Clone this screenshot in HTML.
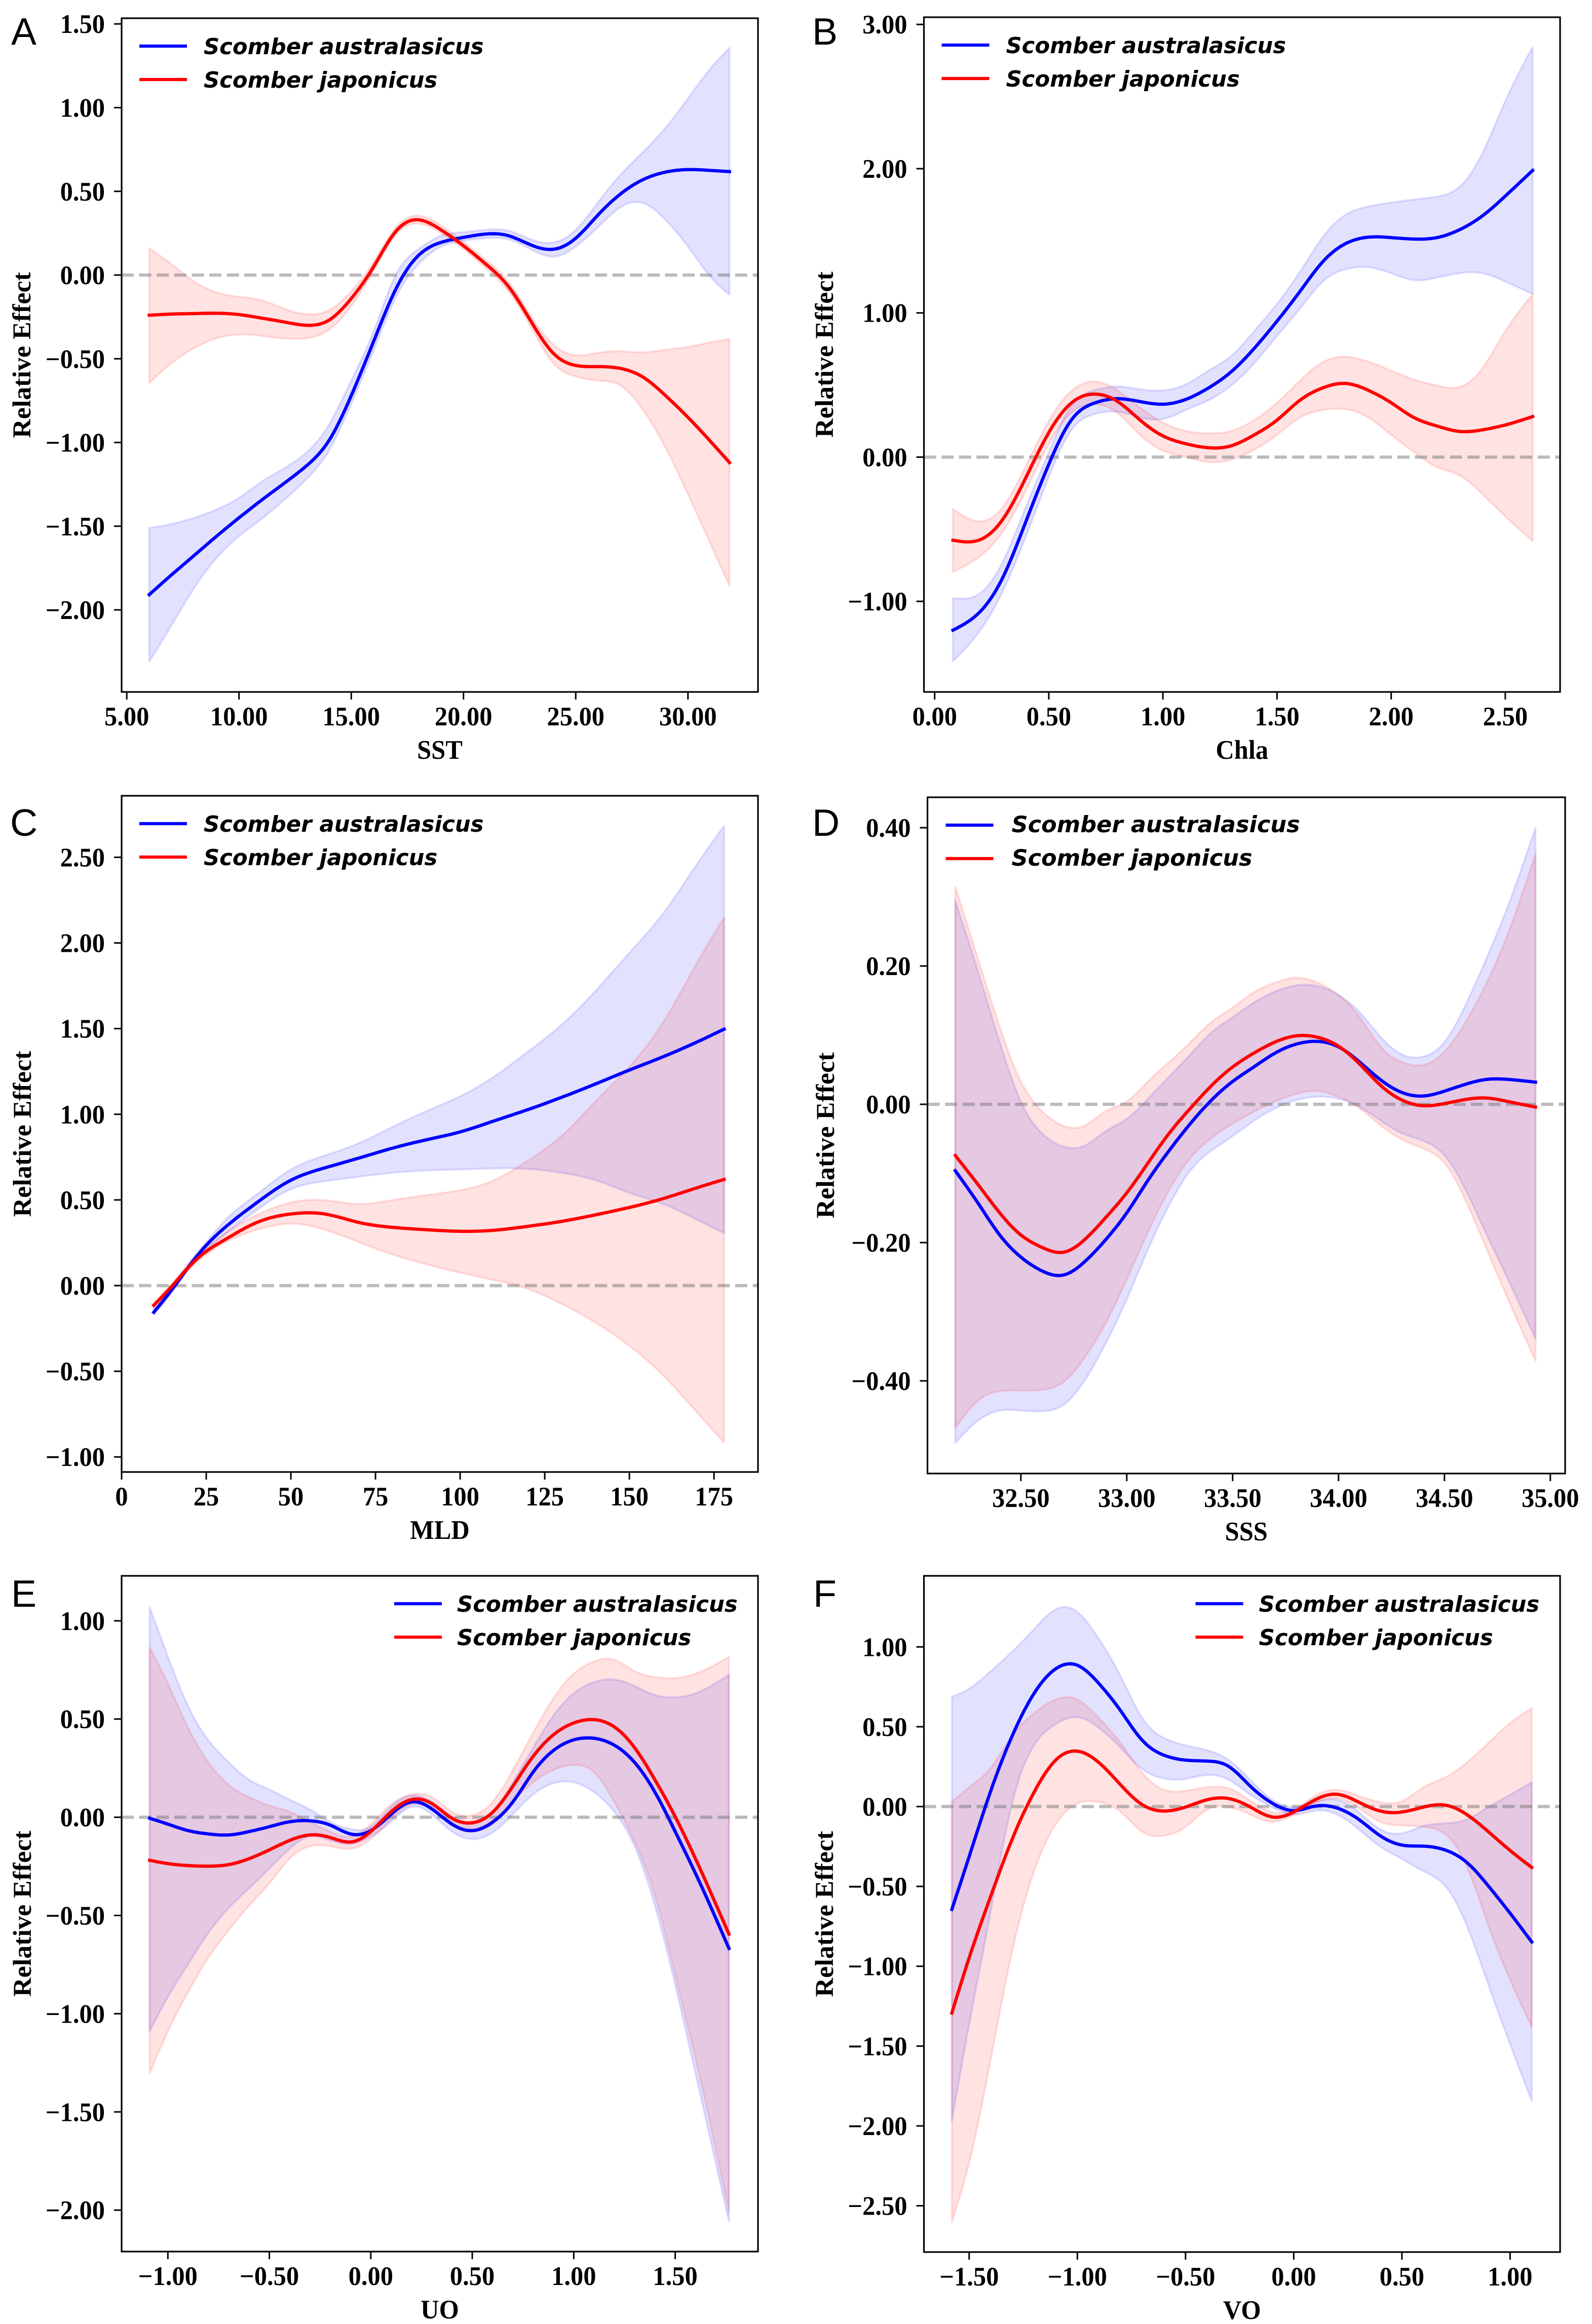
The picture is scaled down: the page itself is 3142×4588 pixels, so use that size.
<!DOCTYPE html>
<html lang="en">
<head>
<meta charset="utf-8">
<title>Relative effect curves for Scomber species</title>
<style>
html,body{margin:0;padding:0;background:#fff;}
svg{display:block;}
</style>
</head>
<body>
<svg id="figure" xmlns="http://www.w3.org/2000/svg" width="3142" height="4588" viewBox="0 0 3142 4588">
<rect x="0" y="0" width="3142" height="4588" fill="#ffffff"></rect>
</svg>
<script>
// ---------- Panel A: SST ----------
const sstX = [6,7,8,9,10,11,12,13,14,15,16,17,18,19,20,21,22,23,24,25,26,27,28,29,30,31,31.85];
const sstAusMean = [-1.909,-1.79,-1.675,-1.56,-1.45,-1.345,-1.245,-1.14,-0.99,-0.72,-0.395,-0.08,0.118,0.195,0.225,0.245,0.235,0.18,0.154,0.22,0.36,0.485,0.57,0.615,0.63,0.625,0.618];
const sstAusLow = [-2.31,-2.09,-1.87,-1.69,-1.56,-1.457,-1.345,-1.22,-1.05,-0.77,-0.45,-0.13,0.065,0.17,0.205,0.22,0.213,0.154,0.11,0.17,0.287,0.405,0.43,0.33,0.17,-0.01,-0.118];
const sstAusHigh = [-1.51,-1.487,-1.45,-1.40,-1.33,-1.235,-1.155,-1.06,-0.895,-0.63,-0.335,0.005,0.155,0.235,0.257,0.27,0.265,0.213,0.195,0.27,0.435,0.6,0.735,0.88,1.055,1.233,1.357];
const sstJapMean = [-0.24,-0.233,-0.23,-0.228,-0.236,-0.257,-0.28,-0.30,-0.27,-0.14,0.05,0.263,0.33,0.27,0.175,0.065,-0.068,-0.275,-0.467,-0.54,-0.547,-0.558,-0.61,-0.72,-0.85,-0.993,-1.12];
const sstJapLow = [-0.645,-0.526,-0.437,-0.378,-0.355,-0.364,-0.378,-0.378,-0.328,-0.186,0.027,0.242,0.307,0.25,0.154,0.041,-0.098,-0.31,-0.526,-0.606,-0.63,-0.66,-0.807,-1.03,-1.31,-1.605,-1.856];
const sstJapHigh = [0.16,0.065,-0.038,-0.103,-0.13,-0.15,-0.2,-0.233,-0.21,-0.098,0.08,0.287,0.355,0.296,0.198,0.089,-0.038,-0.245,-0.414,-0.479,-0.464,-0.455,-0.461,-0.446,-0.429,-0.402,-0.381];
const sstXTicks = [5,10,15,20,25,30];
const sstYTicks = [1.5,1,0.5,0,-0.5,-1,-1.5,-2];

// ---------- Panel B: Chla ----------
const chlaX = [0.08,0.2,0.3,0.4,0.5,0.6,0.7,0.8,0.9,1.0,1.1,1.2,1.3,1.4,1.5,1.6,1.7,1.8,1.9,2.0,2.1,2.2,2.3,2.4,2.5,2.62];
const chlaAusMean = [-1.2,-1.07,-0.83,-0.445,-0.05,0.26,0.375,0.405,0.385,0.367,0.40,0.48,0.593,0.754,0.943,1.148,1.354,1.48,1.525,1.522,1.512,1.522,1.577,1.673,1.81,1.988];
const chlaAusLow = [-1.416,-1.2,-0.925,-0.548,-0.137,0.19,0.298,0.315,0.275,0.264,0.326,0.394,0.497,0.651,0.84,1.028,1.217,1.302,1.316,1.275,1.227,1.244,1.275,1.275,1.217,1.131];
const chlaAusHigh = [-0.977,-0.943,-0.72,-0.343,0.034,0.36,0.463,0.49,0.47,0.463,0.504,0.6,0.703,0.874,1.063,1.285,1.525,1.68,1.738,1.765,1.786,1.806,1.875,2.108,2.468,2.845];
const chlaJapMean = [-0.576,-0.572,-0.428,-0.14,0.17,0.377,0.437,0.387,0.257,0.147,0.093,0.065,0.079,0.154,0.257,0.394,0.48,0.511,0.463,0.377,0.274,0.216,0.178,0.189,0.223,0.281];
const chlaJapLow = [-0.795,-0.686,-0.514,-0.23,0.09,0.31,0.367,0.308,0.154,0.045,0,-0.034,-0.017,0.051,0.154,0.274,0.326,0.332,0.274,0.154,0.034,-0.069,-0.127,-0.257,-0.411,-0.583];
const chlaJapHigh = [-0.36,-0.446,-0.343,-0.06,0.25,0.46,0.524,0.463,0.343,0.24,0.182,0.165,0.182,0.257,0.377,0.531,0.658,0.696,0.662,0.6,0.538,0.497,0.487,0.617,0.874,1.131];
const chlaXTicks = [0,0.5,1,1.5,2,2.5];
const chlaYTicks = [3,2,1,0,-1];

// ---------- Panel C: MLD ----------
const mldX = [9.5,15,20,25,30,40,50,60,70,80,90,100,110,120,130,140,150,160,170,178];
const mldAusMean = [-0.156,-0.02,0.115,0.235,0.33,0.485,0.615,0.687,0.744,0.802,0.851,0.897,0.961,1.027,1.099,1.177,1.258,1.336,1.422,1.497];
const mldAusLow = [-0.17,-0.035,0.1,0.205,0.291,0.441,0.563,0.609,0.635,0.658,0.672,0.678,0.684,0.681,0.658,0.615,0.542,0.476,0.384,0.306];
const mldAusHigh = [-0.141,-0.006,0.135,0.254,0.369,0.534,0.678,0.759,0.831,0.926,1.018,1.105,1.22,1.365,1.523,1.72,1.942,2.173,2.461,2.683];
const mldJapMean = [-0.115,0,0.112,0.2,0.262,0.369,0.418,0.418,0.369,0.34,0.326,0.317,0.323,0.346,0.375,0.413,0.456,0.508,0.571,0.62];
const mldJapLow = [-0.136,-0.02,0.095,0.18,0.245,0.326,0.361,0.326,0.254,0.182,0.124,0.075,0.032,-0.02,-0.107,-0.216,-0.352,-0.525,-0.741,-0.915];
const mldJapHigh = [-0.10,0.015,0.128,0.22,0.297,0.413,0.485,0.499,0.476,0.499,0.528,0.557,0.615,0.73,0.874,1.076,1.278,1.538,1.884,2.149];
const mldXTicks = [0,25,50,75,100,125,150,175];
const mldYTicks = [2.5,2,1.5,1,0.5,0,-0.5,-1];

// ---------- Panel D: SSS ----------
const sssX = [32.19,32.3,32.4,32.5,32.6,32.7,32.8,32.9,33,33.1,33.2,33.3,33.4,33.5,33.6,33.7,33.8,33.9,34,34.1,34.2,34.3,34.4,34.5,34.6,34.7,34.8,34.93];
const sssAusMean = [-0.096,-0.144,-0.189,-0.221,-0.241,-0.247,-0.228,-0.196,-0.157,-0.11,-0.067,-0.028,0.006,0.033,0.054,0.074,0.087,0.091,0.083,0.061,0.035,0.017,0.012,0.019,0.029,0.036,0.036,0.032];
const sssAusLow = [-0.49,-0.457,-0.443,-0.443,-0.444,-0.435,-0.40,-0.346,-0.282,-0.21,-0.146,-0.096,-0.067,-0.046,-0.024,-0.006,0.006,0.011,0.008,-0.004,-0.024,-0.042,-0.053,-0.074,-0.124,-0.189,-0.253,-0.339];
const sssAusHigh = [0.295,0.19,0.09,0.004,-0.042,-0.061,-0.06,-0.039,-0.021,0.008,0.04,0.072,0.104,0.126,0.147,0.163,0.172,0.171,0.158,0.133,0.097,0.072,0.069,0.09,0.144,0.212,0.287,0.40];
const sssJapMean = [-0.074,-0.117,-0.157,-0.189,-0.207,-0.214,-0.196,-0.164,-0.128,-0.085,-0.042,-0.006,0.027,0.054,0.074,0.09,0.099,0.097,0.084,0.058,0.027,0.006,-0.002,0.001,0.007,0.009,0.004,-0.004];
const sssJapLow = [-0.468,-0.428,-0.415,-0.414,-0.413,-0.402,-0.367,-0.317,-0.253,-0.185,-0.124,-0.078,-0.049,-0.028,-0.011,0.004,0.015,0.019,0.011,-0.006,-0.031,-0.051,-0.064,-0.085,-0.139,-0.21,-0.282,-0.371];
const sssJapHigh = [0.315,0.208,0.112,0.033,-0.01,-0.031,-0.031,-0.01,0.004,0.033,0.061,0.09,0.119,0.14,0.162,0.176,0.183,0.176,0.158,0.126,0.083,0.061,0.057,0.076,0.119,0.176,0.247,0.362];
const sssXTicks = [32.5,33,33.5,34,34.5,35];
const sssYTicks = [0.4,0.2,0,-0.2,-0.4];

// ---------- Panel E: UO ----------
const uoX = [-1.09,-1,-0.9,-0.8,-0.7,-0.6,-0.5,-0.4,-0.3,-0.2,-0.1,0,0.1,0.2,0.3,0.4,0.5,0.6,0.7,0.8,0.9,1,1.1,1.2,1.3,1.4,1.5,1.6,1.765];
const uoAusMean = [-0.005,-0.035,-0.068,-0.085,-0.09,-0.073,-0.048,-0.023,-0.018,-0.04,-0.085,-0.068,0.015,0.078,0.043,-0.035,-0.068,-0.025,0.078,0.23,0.34,0.394,0.402,0.367,0.279,0.128,-0.073,-0.286,-0.668];
const uoAusLow = [-1.09,-0.915,-0.747,-0.588,-0.462,-0.362,-0.261,-0.161,-0.098,-0.118,-0.136,-0.098,-0.023,0.053,0.015,-0.073,-0.111,-0.078,0.015,0.116,0.173,0.178,0.128,0.028,-0.148,-0.45,-0.852,-1.304,-2.058];
const uoAusHigh = [1.07,0.819,0.565,0.392,0.279,0.191,0.141,0.09,0.04,-0.023,-0.06,-0.048,0.053,0.111,0.078,0.003,-0.028,0.028,0.178,0.354,0.518,0.631,0.688,0.701,0.668,0.623,0.611,0.631,0.726];
const uoJapMean = [-0.219,-0.236,-0.246,-0.249,-0.241,-0.211,-0.166,-0.118,-0.09,-0.103,-0.126,-0.073,0.028,0.09,0.07,-0.005,-0.028,0.025,0.158,0.31,0.42,0.48,0.497,0.46,0.354,0.191,0.003,-0.211,-0.595];
const uoJapLow = [-1.304,-1.09,-0.889,-0.714,-0.575,-0.45,-0.337,-0.211,-0.148,-0.148,-0.161,-0.111,-0.01,0.065,0.04,-0.043,-0.073,-0.035,0.078,0.178,0.241,0.266,0.229,0.078,-0.123,-0.399,-0.802,-1.229,-2.008];
const uoJapHigh = [0.864,0.681,0.455,0.279,0.165,0.103,0.06,0.028,-0.023,-0.073,-0.098,-0.035,0.065,0.116,0.103,0.028,0.01,0.078,0.241,0.43,0.606,0.731,0.794,0.802,0.744,0.714,0.709,0.731,0.817];
const uoXTicks = [-1,-0.5,0,0.5,1,1.5];
const uoYTicks = [1,0.5,0,-0.5,-1,-1.5,-2];

// ---------- Panel F: VO ----------
const voX = [-1.58,-1.5,-1.4,-1.3,-1.2,-1.1,-1,-0.9,-0.8,-0.7,-0.6,-0.5,-0.4,-0.3,-0.2,-0.1,0,0.1,0.2,0.3,0.4,0.5,0.6,0.7,0.8,0.9,1,1.1];
const voAusMean = [-0.644,-0.313,0.099,0.446,0.709,0.863,0.885,0.77,0.6,0.415,0.322,0.291,0.285,0.251,0.127,0.022,-0.025,0.003,-0.009,-0.08,-0.183,-0.241,-0.248,-0.272,-0.35,-0.498,-0.668,-0.848];
const voAusLow = [-1.968,-1.364,-0.653,0.028,0.384,0.517,0.56,0.492,0.368,0.235,0.176,0.173,0.198,0.167,0.074,-0.003,-0.05,-0.025,-0.05,-0.142,-0.251,-0.328,-0.405,-0.498,-0.746,-1.117,-1.488,-1.844];
const voAusHigh = [0.687,0.739,0.848,0.972,1.111,1.235,1.219,1.049,0.817,0.554,0.43,0.384,0.353,0.291,0.167,0.043,-0.003,0.028,0.043,-0.034,-0.142,-0.167,-0.121,-0.105,-0.08,-0.003,0.074,0.152];
const voJapMean = [-1.293,-0.947,-0.56,-0.2,0.09,0.291,0.347,0.275,0.136,0.012,-0.028,-0.003,0.043,0.05,-0.003,-0.065,-0.034,0.043,0.077,0.028,-0.028,-0.034,-0.003,0.009,-0.05,-0.158,-0.275,-0.381];
const voJapLow = [-2.602,-2.231,-1.581,-0.9,-0.405,-0.111,0.019,0.028,-0.034,-0.158,-0.183,-0.127,-0.019,-0.003,-0.05,-0.096,-0.05,0.022,0.05,-0.009,-0.096,-0.118,-0.127,-0.173,-0.374,-0.746,-1.086,-1.38];
const voJapHigh = [0.028,0.121,0.244,0.446,0.585,0.671,0.671,0.554,0.399,0.213,0.105,0.099,0.121,0.114,0.037,-0.034,-0.019,0.068,0.105,0.068,0.028,0.034,0.121,0.183,0.276,0.399,0.523,0.616];
const voXTicks = [-1.5,-1,-0.5,0,0.5,1];
const voYTicks = [1,0.5,0,-0.5,-1,-1.5,-2,-2.5];

const NS = 'http://www.w3.org/2000/svg';
const svg = document.getElementById('figure');
const SERIF = '"Liberation Serif", serif';
const SANS = '"Liberation Sans", sans-serif';
const LEGEND = '"DejaVu Sans", sans-serif';
const BLUE = '#0000ff';
const RED = '#ff0000';
const STRETCH = 1.04;
const SUBSTEPS = 10;

function make(tag, parent, attrs) {
  const el = document.createElementNS(NS, tag);
  for (const k in attrs) el.setAttribute(k, attrs[k]);
  parent.appendChild(el);
  return el;
}
function scale(d0, d1, r0, r1) {
  return v => r0 + (v - d0) / (d1 - d0) * (r1 - r0);
}
// Natural cubic spline through the read values; returns [[x,y],...] densely sampled in data units.
function splineSamples(xs, ys) {
  const n = xs.length, h = [], a = new Array(n).fill(0), b = new Array(n).fill(1), c = new Array(n).fill(0), r = new Array(n).fill(0);
  for (let i = 0; i < n - 1; i++) h[i] = xs[i + 1] - xs[i];
  for (let i = 1; i < n - 1; i++) {
    a[i] = h[i - 1];
    b[i] = 2 * (h[i - 1] + h[i]);
    c[i] = h[i];
    r[i] = 6 * ((ys[i + 1] - ys[i]) / h[i] - (ys[i] - ys[i - 1]) / h[i - 1]);
  }
  for (let i = 1; i < n; i++) {
    const m = a[i] / b[i - 1];
    b[i] -= m * c[i - 1];
    r[i] -= m * r[i - 1];
  }
  const M = new Array(n).fill(0);
  M[n - 1] = r[n - 1] / b[n - 1];
  for (let i = n - 2; i >= 0; i--) M[i] = (r[i] - c[i] * M[i + 1]) / b[i];
  const out = [];
  for (let i = 0; i < n - 1; i++) {
    for (let s = 0; s < SUBSTEPS; s++) {
      const t = xs[i] + h[i] * s / SUBSTEPS;
      const A = (xs[i + 1] - t) / h[i], B = (t - xs[i]) / h[i];
      const y = A * ys[i] + B * ys[i + 1] + ((A * A * A - A) * M[i] + (B * B * B - B) * M[i + 1]) * h[i] * h[i] / 6;
      out.push([t, y]);
    }
  }
  out.push([xs[n - 1], ys[n - 1]]);
  return out;
}
function polyline(pts, moveFirst) {
  return pts.map((p, i) => (i === 0 && moveFirst ? 'M' : 'L') + p[0].toFixed(1) + ' ' + p[1].toFixed(1)).join('');
}
function fmt(v, digits) {
  return v.toFixed(digits).replace('-', '\u2212');
}

function drawPanel(cfg) {
  const g = make('g', svg, {});
  
  

  const X = scale(cfg.xDomain[0], cfg.xDomain[1], cfg.left, cfg.right);
  const Y = scale(cfg.yDomain[0], cfg.yDomain[1], cfg.bottom, cfg.top);
  const toPx = vals => splineSamples(cfg.x, vals).map(p => [X(p[0]), Y(p[1])]);

  function band(low, high, color, name) {
    const el = make('path', g, {
      d: polyline(toPx(high), true) + polyline(toPx(low).reverse(), false) + 'Z',
      fill: color, 'fill-opacity': 0.115, stroke: color, 'stroke-opacity': 0.11, 'stroke-width': 4, 'stroke-linejoin': 'round'
    });
    
    
  }
  function line(vals, color, name) {
    const el = make('path', g, {
      d: polyline(toPx(vals), true),
      fill: 'none', stroke: color, 'stroke-width': 6.4, 'stroke-linecap': 'square', 'stroke-linejoin': 'round'
    });
    
    
  }
  function label(str, x, y, size, family, anchor, name) {
    const el = make('text', g, {
      transform: 'translate(' + x + ' ' + y + ') scale(1 ' + STRETCH + ')',
      'font-family': family, 'font-size': size, 'font-weight': 'bold', 'text-anchor': anchor, fill: '#000000'
    });
    el.textContent = str;
    
    
    return el;
  }

  band(cfg.ausLow, cfg.ausHigh, BLUE, cfg.key + '-australasicus-confidence-band');
  band(cfg.japLow, cfg.japHigh, RED, cfg.key + '-japonicus-confidence-band');

  const zero = make('line', g, {
    x1: cfg.left, x2: cfg.right, y1: Y(0), y2: Y(0),
    stroke: '#777777', 'stroke-opacity': 0.5, 'stroke-width': 6.4, 'stroke-dasharray': '24 10.6'
  });
  
  

  line(cfg.ausMean, BLUE, cfg.key + '-australasicus-line');
  line(cfg.japMean, RED, cfg.key + '-japonicus-line');

  const frame = make('rect', g, {
    x: cfg.left, y: cfg.top, width: cfg.right - cfg.left, height: cfg.bottom - cfg.top,
    fill: 'none', stroke: '#000000', 'stroke-width': 3.2
  });
  
  

  cfg.xTicks.forEach(t => {
    const px = X(t);
    const tick = make('line', g, { x1: px, x2: px, y1: cfg.bottom, y2: cfg.bottom + 15, stroke: '#000000', 'stroke-width': 3 });
    
    
    label(fmt(t, cfg.xDigits), px, cfg.bottom + 66, 50.5, SERIF, 'middle', cfg.key + '-x-tick-label');
  });
  cfg.yTicks.forEach(t => {
    const py = Y(t);
    const tick = make('line', g, { x1: cfg.left - 15, x2: cfg.left, y1: py, y2: py, stroke: '#000000', 'stroke-width': 3 });
    
    
    label(fmt(t, 2), cfg.left - 33, py + 18, 50.5, SERIF, 'end', cfg.key + '-y-tick-label');
  });

  label(cfg.xTitle, (cfg.left + cfg.right) / 2, cfg.bottom + 132, 50.5, SERIF, 'middle', cfg.key + '-x-axis-title');
  const yTitle = make('text', g, {
    transform: 'translate(' + cfg.yTitleX + ' ' + ((cfg.top + cfg.bottom) / 2) + ') scale(1 1.03) rotate(-90)',
    'font-family': SERIF, 'font-size': 50.5, 'font-weight': 'bold', 'text-anchor': 'middle', fill: '#000000'
  });
  yTitle.textContent = 'Relative Effect';
  
  

  const letter = make('text', g, {
    x: cfg.letterX, y: cfg.letterY, 'font-family': SANS, 'font-size': 75, fill: '#000000'
  });
  letter.textContent = cfg.letter;
  
  

  const legend = make('g', g, {});
  
  
  [['Scomber australasicus', BLUE, 55, 71], ['Scomber japonicus', RED, 121, 137]].forEach(row => {
    const swatch = make('line', legend, {
      x1: cfg.left + cfg.legendX, x2: cfg.left + cfg.legendX + 94,
      y1: cfg.top + row[2], y2: cfg.top + row[2], stroke: row[1], 'stroke-width': 6.2
    });
    
    
    const txt = make('text', legend, {
      x: cfg.left + cfg.legendX + cfg.legendGap, y: cfg.top + row[3] - cfg.legendLift,
      'font-family': LEGEND, 'font-size': cfg.legendSize, 'font-weight': 'bold', 'font-style': 'italic', fill: '#000000'
    });
    txt.textContent = row[0];
    
    
  });
}

drawPanel({ key: 'sst', letter: 'A', letterX: 22, letterY: 88, xTitle: 'SST', yTitleX: 60,
  left: 240, right: 1496, top: 36, bottom: 1366, xDomain: [4.77, 33.12], yDomain: [-2.49, 1.534], xDigits: 2,
  legendX: 35, legendGap: 127, legendSize: 43.3, legendLift: 0,
  x: sstX, ausMean: sstAusMean, ausLow: sstAusLow, ausHigh: sstAusHigh, japMean: sstJapMean, japLow: sstJapLow, japHigh: sstJapHigh,
  xTicks: sstXTicks, yTicks: sstYTicks });
drawPanel({ key: 'chla', letter: 'B', letterX: 1603, letterY: 88, xTitle: 'Chla', yTitleX: 1644,
  left: 1823.5, right: 3079, top: 34, bottom: 1366, xDomain: [-0.047, 2.74], yDomain: [-1.628, 3.05], xDigits: 2,
  legendX: 35, legendGap: 127, legendSize: 43.3, legendLift: 0,
  x: chlaX, ausMean: chlaAusMean, ausLow: chlaAusLow, ausHigh: chlaAusHigh, japMean: chlaJapMean, japLow: chlaJapLow, japHigh: chlaJapHigh,
  xTicks: chlaXTicks, yTicks: chlaYTicks });
drawPanel({ key: 'mld', letter: 'C', letterX: 20, letterY: 1650, xTitle: 'MLD', yTitleX: 61,
  left: 240, right: 1496, top: 1571, bottom: 2906, xDomain: [0, 188], yDomain: [-1.088, 2.859], xDigits: 0,
  legendX: 35, legendGap: 127, legendSize: 43.3, legendLift: 0,
  x: mldX, ausMean: mldAusMean, ausLow: mldAusLow, ausHigh: mldAusHigh, japMean: mldJapMean, japLow: mldJapLow, japHigh: mldJapHigh,
  xTicks: mldXTicks, yTicks: mldYTicks });
drawPanel({ key: 'sss', letter: 'D', letterX: 1603, letterY: 1650, xTitle: 'SSS', yTitleX: 1646,
  left: 1830.5, right: 3089, top: 1574, bottom: 2909, xDomain: [32.059, 35.07], yDomain: [-0.534, 0.444], xDigits: 2,
  legendX: 36, legendGap: 130, legendSize: 44.6, legendLift: 2,
  x: sssX, ausMean: sssAusMean, ausLow: sssAusLow, ausHigh: sssAusHigh, japMean: sssJapMean, japLow: sssJapLow, japHigh: sssJapHigh,
  xTicks: sssXTicks, yTicks: sssYTicks });
drawPanel({ key: 'uo', letter: 'E', letterX: 22, letterY: 3172, xTitle: 'UO', yTitleX: 61,
  left: 240, right: 1496, top: 3111, bottom: 4445, xDomain: [-1.228, 1.908], yDomain: [-2.211, 1.229], xDigits: 2,
  legendX: 538, legendGap: 124, legendSize: 43.4, legendLift: 0,
  x: uoX, ausMean: uoAusMean, ausLow: uoAusLow, ausHigh: uoAusHigh, japMean: uoJapMean, japLow: uoJapLow, japHigh: uoJapHigh,
  xTicks: uoXTicks, yTicks: uoYTicks });
drawPanel({ key: 'vo', letter: 'F', letterX: 1605, letterY: 3172, xTitle: 'VO', yTitleX: 1644,
  left: 1823.5, right: 3079, top: 3111, bottom: 4446, xDomain: [-1.709, 1.231], yDomain: [-2.79, 1.445], xDigits: 2,
  legendX: 536, legendGap: 125, legendSize: 43.4, legendLift: 0,
  x: voX, ausMean: voAusMean, ausLow: voAusLow, ausHigh: voAusHigh, japMean: voJapMean, japLow: voJapLow, japHigh: voJapHigh,
  xTicks: voXTicks, yTicks: voYTicks });
</script>
</body>
</html>
